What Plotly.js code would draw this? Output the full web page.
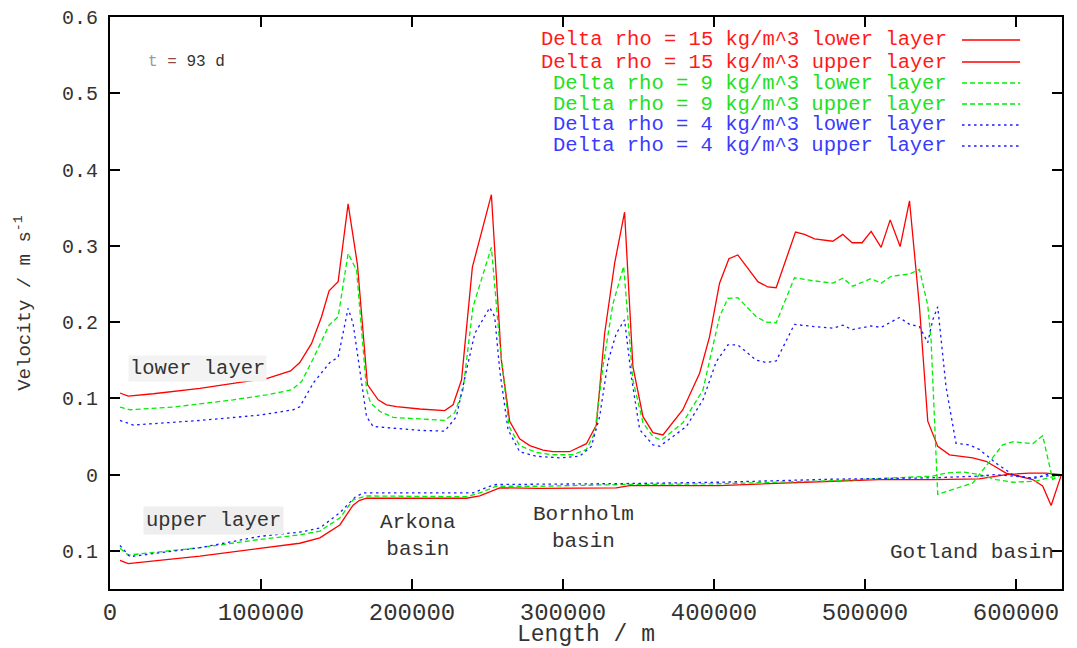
<!DOCTYPE html>
<html>
<head>
<meta charset="utf-8">
<script src="https://cdn.plot.ly/plotly-3.0.1.min.js"></script>
<style>
  html, body { margin: 0; padding: 0; background: #ffffff; }
  #chart { width: 1077px; height: 648px; }
</style>
</head>
<body>
<div id="chart"></div>
<script>
// Along-channel velocity of the two-layer flow after 93 days,
// for three density differences between the layers.

// Delta rho = 15 kg/m^3, lower layer
const red_lower_x = [6600, 12100, 28700, 59600, 86000, 103700, 119600, 125700, 133500, 140100, 145100, 151100, 157700, 163900, 170500, 177600, 183100, 189700, 205200, 221700, 227200, 232800, 240000, 252600, 259200, 264700, 271300, 278000, 286800, 293400, 304400, 308900, 315500, 322100, 327600, 334200, 340800, 346300, 353000, 359600, 366200, 379400, 390500, 397100, 403700, 409900, 415800, 429100, 435700, 441200, 454000, 460000, 466600, 478700, 485300, 491500, 498100, 504100, 510700, 516700, 523300, 529500, 536100, 541600, 548200, 556000, 571400, 580200, 593400, 611100, 617700, 623300, 629800];
const red_lower_v = [0.107, 0.103, 0.106, 0.113, 0.121, 0.126, 0.136, 0.147, 0.172, 0.207, 0.241, 0.253, 0.355, 0.275, 0.118, 0.098, 0.0915, 0.089, 0.086, 0.084, 0.0915, 0.124, 0.272, 0.367, 0.150, 0.070, 0.047, 0.038, 0.032, 0.030, 0.030, 0.034, 0.0405, 0.065, 0.185, 0.277, 0.344, 0.142, 0.076, 0.055, 0.052, 0.085, 0.133, 0.181, 0.251, 0.283, 0.288, 0.253, 0.246, 0.245, 0.318, 0.315, 0.309, 0.306, 0.315, 0.304, 0.304, 0.319, 0.298, 0.334, 0.299, 0.359, 0.220, 0.070, 0.037, 0.026, 0.022, 0.0175, 0.002, -0.0065, -0.015, -0.0405, -0.002];

// Delta rho = 15 kg/m^3, upper layer
const red_upper_x = [6600, 12100, 59600, 99300, 125700, 139000, 152200, 161000, 165000, 169900, 236100, 244900, 258100, 284600, 335300, 344100, 403700, 478700, 509200, 544900, 575700, 593400, 609000, 619900, 629800];
const red_upper_v = [-0.1124, -0.1167, -0.1068, -0.097, -0.090, -0.083, -0.066, -0.040, -0.034, -0.031, -0.031, -0.028, -0.0174, -0.018, -0.0174, -0.0144, -0.0144, -0.0087, -0.0065, -0.0065, -0.0056, 0.0, 0.002, 0.002, 0.0];

// Delta rho = 9 kg/m^3, lower layer
const green_lower_x = [6600, 13200, 41900, 81600, 103700, 120200, 126900, 134600, 145100, 151100, 157700, 163300, 169900, 172500, 178700, 187500, 205200, 221700, 228300, 233800, 240400, 252600, 258100, 264300, 271300, 282400, 293400, 306600, 315500, 321000, 326500, 333100, 340200, 346300, 353000, 359600, 365100, 379400, 392700, 398200, 403700, 409200, 415800, 428000, 434600, 441200, 453300, 466600, 478700, 485300, 491900, 504100, 510700, 517300, 529500, 536100, 541600, 543800, 546000, 548200, 571400, 582400, 591200, 597800, 611100, 617700, 622100, 624300, 629800];
const green_lower_v = [0.0885, 0.085, 0.0885, 0.098, 0.1046, 0.111, 0.122, 0.152, 0.196, 0.207, 0.290, 0.268, 0.112, 0.094, 0.083, 0.075, 0.073, 0.071, 0.081, 0.111, 0.220, 0.298, 0.172, 0.063, 0.038, 0.029, 0.026, 0.026, 0.033, 0.0545, 0.142, 0.224, 0.273, 0.124, 0.068, 0.050, 0.045, 0.068, 0.111, 0.159, 0.207, 0.231, 0.232, 0.207, 0.200, 0.199, 0.258, 0.254, 0.251, 0.2575, 0.247, 0.257, 0.251, 0.260, 0.263, 0.269, 0.222, 0.176, 0.081, -0.026, -0.011, 0.017, 0.039, 0.043, 0.0405, 0.051, 0.015, -0.0065, 0.0];

// Delta rho = 9 kg/m^3, upper layer
const green_upper_x = [6600, 12100, 59600, 99300, 125700, 139000, 152200, 161000, 169900, 236100, 244900, 255900, 284600, 339700, 403700, 478700, 544900, 553700, 564700, 575700, 586800, 597800, 613200, 622100, 629800];
const green_upper_v = [-0.0967, -0.1055, -0.0958, -0.085, -0.079, -0.074, -0.057, -0.033, -0.028, -0.029, -0.024, -0.0153, -0.0153, -0.013, -0.012, -0.008, -0.002, 0.002, 0.0035, 0.0, -0.0065, -0.010, -0.0087, -0.004, 0.0];

// Delta rho = 4 kg/m^3, lower layer
const blue_lower_x = [6600, 15400, 59600, 99300, 121300, 125700, 134600, 145600, 151100, 157700, 161000, 169900, 174300, 191900, 205200, 221700, 229400, 236100, 241600, 251500, 254800, 258100, 263600, 271300, 282400, 297800, 311000, 318800, 324300, 329800, 335300, 340800, 345300, 350800, 359600, 364000, 381700, 392700, 401500, 409200, 415800, 428000, 434600, 441200, 453300, 466600, 478700, 485300, 491500, 504100, 510700, 522800, 529500, 536100, 541600, 544900, 548200, 553700, 560300, 569100, 575700, 586800, 597800, 611100, 619900, 629800];
const blue_lower_v = [0.071, 0.065, 0.071, 0.078, 0.085, 0.089, 0.120, 0.147, 0.154, 0.218, 0.198, 0.076, 0.063, 0.060, 0.058, 0.057, 0.076, 0.137, 0.185, 0.219, 0.207, 0.137, 0.059, 0.030, 0.024, 0.022, 0.024, 0.037, 0.076, 0.148, 0.185, 0.203, 0.128, 0.059, 0.039, 0.037, 0.063, 0.098, 0.148, 0.170, 0.170, 0.150, 0.147, 0.149, 0.197, 0.194, 0.192, 0.196, 0.190, 0.195, 0.193, 0.206, 0.197, 0.194, 0.173, 0.203, 0.220, 0.115, 0.041, 0.039, 0.033, 0.015, 0.0, -0.0056, 0.0, 0.0];

// Delta rho = 4 kg/m^3, upper layer
const blue_upper_x = [6600, 13200, 59600, 99300, 125700, 139000, 152200, 162100, 167600, 240400, 251500, 255900, 339700, 403700, 478700, 542700, 575700, 586800, 609000, 629800];
const blue_upper_v = [-0.093, -0.1076, -0.0958, -0.081, -0.0754, -0.070, -0.050, -0.030, -0.024, -0.024, -0.0153, -0.013, -0.0118, -0.010, -0.006, -0.0043, -0.002, 0.0, -0.004, 0.0];

// Series labels and axis ticks
const series_labels = [
  "Delta rho = 15 kg/m^3 lower layer",
  "Delta rho = 15 kg/m^3 upper layer",
  "Delta rho = 9 kg/m^3 lower layer",
  "Delta rho = 9 kg/m^3 upper layer",
  "Delta rho = 4 kg/m^3 lower layer",
  "Delta rho = 4 kg/m^3 upper layer"
];
const x_tick_values = [0, 100000, 200000, 300000, 400000, 500000, 600000];
const x_tick_labels = ["0", "100000", "200000", "300000", "400000", "500000", "600000"];
const y_tick_values = [-0.1, 0, 0.1, 0.2, 0.3, 0.4, 0.5, 0.6];
const y_tick_labels = ["0.1", "0", "0.1", "0.2", "0.3", "0.4", "0.5", "0.6"];

const MONO = "Liberation Mono, DejaVu Sans Mono, monospace";
const RED = "#ff0000", GREEN = "#00ee00", BLUE = "#1a1aff";
const styles = [
  {color: RED, dash: "solid", text: "#ff1a1a"},
  {color: RED, dash: "solid", text: "#ff1a1a"},
  {color: GREEN, dash: "5px,3px", text: "#22e022"},
  {color: GREEN, dash: "5px,3px", text: "#22e022"},
  {color: BLUE, dash: "2.5px,3.5px", text: "#3a3aff"},
  {color: BLUE, dash: "2.5px,3.5px", text: "#3a3aff"}
];
const seriesData = [
  [red_lower_x, red_lower_v],
  [red_upper_x, red_upper_v],
  [green_lower_x, green_lower_v],
  [green_upper_x, green_upper_v],
  [blue_lower_x, blue_lower_v],
  [blue_upper_x, blue_upper_v]
];

const traces = seriesData.map((d, i) => ({
  type: "scatter",
  mode: "lines",
  x: d[0],
  y: d[1],
  name: series_labels[i],
  showlegend: false,
  hoverinfo: "skip",
  line: {color: styles[i].color, dash: styles[i].dash, width: 1.3}
}));

// Key in the top right corner: right-aligned label, sample line after it
const keyRowsY = [0.9598, 0.9213, 0.8846, 0.8479, 0.8112, 0.7745];
const annotations = series_labels.map((t, i) => ({
  xref: "paper", yref: "paper",
  x: 0.8815, y: keyRowsY[i],
  xanchor: "right", yanchor: "middle",
  text: t, showarrow: false,
  font: {family: MONO, size: 20.5, color: styles[i].text}
}));
const shapes = series_labels.map((t, i) => ({
  type: "line", xref: "paper", yref: "paper",
  x0: 0.895, x1: 0.956, y0: keyRowsY[i], y1: keyRowsY[i],
  line: {color: styles[i].color, dash: styles[i].dash, width: 1.3}
}));

// Labels inside the plot
annotations.push(
  {xref: "paper", yref: "paper", x: 0.038, y: 0.921, xanchor: "left", yanchor: "middle", showarrow: false,
   text: '<span style="color:#9a9a9a">t</span> <span style="color:#8b4a4a">=</span> <span style="color:#333333">93 d</span>',
   font: {family: MONO, size: 16, color: "#333333"}},
  {xref: "paper", yref: "paper", x: 0.0189, y: 0.386, xanchor: "left", yanchor: "middle", showarrow: false,
   text: "lower layer", bgcolor: "#f3f3f3", borderpad: 1,
   font: {family: MONO, size: 20.5, color: "#333333"}},
  {xref: "paper", yref: "paper", x: 0.035, y: 0.119, xanchor: "left", yanchor: "middle", showarrow: false,
   text: "upper layer", bgcolor: "#eeeeee", borderpad: 2,
   font: {family: MONO, size: 20.5, color: "#333333"}},
  {xref: "paper", yref: "paper", x: 0.3235, y: 0.092, xanchor: "center", yanchor: "middle", showarrow: false,
   text: "Arkona<br>basin", font: {family: MONO, size: 21, color: "#333333"}},
  {xref: "paper", yref: "paper", x: 0.497, y: 0.107, xanchor: "center", yanchor: "middle", showarrow: false,
   text: "Bornholm<br>basin", font: {family: MONO, size: 21, color: "#333333"}},
  {xref: "paper", yref: "paper", x: 0.9935, y: 0.063, xanchor: "right", yanchor: "middle", showarrow: false,
   text: "Gotland basin", font: {family: MONO, size: 21, color: "#333333"}}
);

const layout = {
  width: 1077, height: 648,
  margin: {l: 110, r: 15, t: 17, b: 59},
  paper_bgcolor: "#ffffff", plot_bgcolor: "#ffffff",
  showlegend: false,
  xaxis: {
    range: [0, 630500],
    tickvals: x_tick_values, ticktext: x_tick_labels,
    ticks: "inside", ticklen: 10, tickwidth: 2, tickcolor: "#000000",
    showline: true, linecolor: "#000000", linewidth: 2, mirror: "ticks",
    showgrid: false, zeroline: false, automargin: false,
    tickfont: {family: MONO, size: 24, color: "#333333"},
    title: {text: "Length / m", font: {family: MONO, size: 23, color: "#333333"}, standoff: 3}
  },
  yaxis: {
    range: [-0.15, 0.6],
    tickvals: y_tick_values, ticktext: y_tick_labels,
    ticks: "inside", ticklen: 10, tickwidth: 2, tickcolor: "#000000",
    showline: true, linecolor: "#000000", linewidth: 2, mirror: "ticks",
    showgrid: false, zeroline: false, automargin: false,
    ticklabelstandoff: 6,
    tickfont: {family: MONO, size: 20, color: "#333333"},
    title: {text: "Velocity / m s<sup>-1</sup>", font: {family: MONO, size: 19, color: "#333333"}, standoff: 26}
  },
  annotations: annotations,
  shapes: shapes
};

Plotly.newPlot("chart", traces, layout, {displayModeBar: false, staticPlot: true});
</script>
</body>
</html>
